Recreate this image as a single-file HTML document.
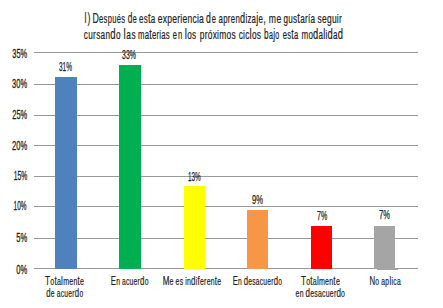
<!DOCTYPE html><html><head><meta charset="utf-8"><style>html,body{margin:0;padding:0;background:#fff;}svg{display:block;}text{font-family:"Liberation Sans",sans-serif;fill:#222222;stroke:#222222;stroke-width:0.20px;}text.n{stroke-width:0.30px;}text.d{stroke-width:0.25px;}</style></head><body>
<svg width="443" height="308" viewBox="0 0 443 308">
<rect x="0" y="0" width="443" height="308" fill="#fff"/>
<rect x="34" y="52" width="384" height="1" fill="#999999"/>
<rect x="34" y="84" width="384" height="1" fill="#999999"/>
<rect x="34" y="115" width="384" height="1" fill="#999999"/>
<rect x="34" y="145" width="384" height="1" fill="#999999"/>
<rect x="34" y="176" width="384" height="1" fill="#999999"/>
<rect x="34" y="206" width="384" height="1" fill="#999999"/>
<rect x="34" y="238" width="384" height="1" fill="#999999"/>
<rect x="34" y="268" width="384" height="1" fill="#999999"/>
<rect x="55" y="77" width="22" height="192" fill="#4f81bd"/>
<rect x="119" y="65" width="22" height="204" fill="#00b050"/>
<rect x="184" y="186" width="21" height="83" fill="#ffff00"/>
<rect x="247" y="210" width="21" height="59" fill="#f79646"/>
<rect x="311" y="226" width="21" height="43" fill="#ff0000"/>
<rect x="374" y="226" width="21" height="43" fill="#a5a5a5"/>
<rect x="377" y="269" width="21" height="1" fill="#a5a5a5"/>
<text class="n" x="12.30" y="57.90" font-size="12.8" textLength="14.90" lengthAdjust="spacingAndGlyphs">35%</text>
<text class="n" x="12.10" y="88.10" font-size="12.8" textLength="15.10" lengthAdjust="spacingAndGlyphs">30%</text>
<text class="n" x="12.30" y="119.00" font-size="12.8" textLength="14.90" lengthAdjust="spacingAndGlyphs">25%</text>
<text class="n" x="12.10" y="149.80" font-size="12.8" textLength="15.10" lengthAdjust="spacingAndGlyphs">20%</text>
<text class="n" x="13.70" y="179.80" font-size="12.8" textLength="13.50" lengthAdjust="spacingAndGlyphs">15%</text>
<text class="n" x="13.60" y="209.80" font-size="12.8" textLength="13.00" lengthAdjust="spacingAndGlyphs">10%</text>
<text class="n" x="16.20" y="242.40" font-size="12.8" textLength="11.00" lengthAdjust="spacingAndGlyphs">5%</text>
<text class="n" x="16.20" y="273.90" font-size="12.8" textLength="11.00" lengthAdjust="spacingAndGlyphs">0%</text>
<text class="d" x="59.00" y="70.80" font-size="12.8" textLength="13.00" lengthAdjust="spacingAndGlyphs">31%</text>
<text class="d" x="122.00" y="59.20" font-size="12.8" textLength="14.00" lengthAdjust="spacingAndGlyphs">33%</text>
<text class="d" x="188.00" y="180.80" font-size="12.8" textLength="12.80" lengthAdjust="spacingAndGlyphs">13%</text>
<text class="d" x="252.00" y="203.90" font-size="12.8" textLength="11.00" lengthAdjust="spacingAndGlyphs">9%</text>
<text class="d" x="317.00" y="219.70" font-size="12.8" textLength="10.20" lengthAdjust="spacingAndGlyphs">7%</text>
<text class="d" x="379.10" y="218.80" font-size="12.8" textLength="10.90" lengthAdjust="spacingAndGlyphs">7%</text>
<text transform="translate(84.60,22.80) scale(0.608,1)" font-size="14.2" textLength="9.53" lengthAdjust="spacing">l)</text>
<text transform="translate(92.40,22.80) scale(0.618,1)" font-size="14.2" textLength="52.90" lengthAdjust="spacing">D<tspan font-size="12.21">espués</tspan></text>
<text transform="translate(127.80,22.80) scale(0.585,1)" font-size="14.2" textLength="15.37" lengthAdjust="spacing">d<tspan font-size="12.21">e</tspan></text>
<text transform="translate(139.10,22.80) scale(0.647,1)" font-size="14.2" textLength="24.90" lengthAdjust="spacing"><tspan font-size="12.21">es</tspan>t<tspan font-size="12.21">a</tspan></text>
<text transform="translate(157.80,22.80) scale(0.702,1)" font-size="14.2" textLength="65.65" lengthAdjust="spacing"><tspan font-size="12.21">experiencia</tspan></text>
<text transform="translate(205.90,22.80) scale(0.613,1)" font-size="14.2" textLength="16.32" lengthAdjust="spacing">d<tspan font-size="12.21">e</tspan></text>
<text transform="translate(218.60,22.80) scale(0.642,1)" font-size="14.2" textLength="73.36" lengthAdjust="spacing"><tspan font-size="12.21">apren</tspan>d<tspan font-size="12.21">iza</tspan>j<tspan font-size="12.21">e</tspan>,</text>
<text transform="translate(268.80,22.80) scale(0.707,1)" font-size="14.2" textLength="17.54" lengthAdjust="spacing"><tspan font-size="12.21">me</tspan></text>
<text transform="translate(283.60,22.80) scale(0.664,1)" font-size="14.2" textLength="47.13" lengthAdjust="spacing"><tspan font-size="12.21">gus</tspan>t<tspan font-size="12.21">aría</tspan></text>
<text transform="translate(317.50,22.80) scale(0.694,1)" font-size="14.2" textLength="35.03" lengthAdjust="spacing"><tspan font-size="12.21">seguir</tspan></text>
<text transform="translate(83.80,38.50) scale(0.671,1)" font-size="14.2" textLength="54.66" lengthAdjust="spacing"><tspan font-size="12.21">cursan</tspan>d<tspan font-size="12.21">o</tspan></text>
<text transform="translate(123.50,38.50) scale(0.679,1)" font-size="14.2" textLength="17.83" lengthAdjust="spacing">l<tspan font-size="12.21">as</tspan></text>
<text transform="translate(138.10,38.50) scale(0.633,1)" font-size="14.2" textLength="49.95" lengthAdjust="spacing"><tspan font-size="12.21">ma</tspan>t<tspan font-size="12.21">erias</tspan></text>
<text transform="translate(172.80,38.50) scale(0.618,1)" font-size="14.2" textLength="15.21" lengthAdjust="spacing"><tspan font-size="12.21">en</tspan></text>
<text transform="translate(184.80,38.50) scale(0.672,1)" font-size="14.2" textLength="16.95" lengthAdjust="spacing">l<tspan font-size="12.21">os</tspan></text>
<text transform="translate(199.80,38.50) scale(0.690,1)" font-size="14.2" textLength="51.90" lengthAdjust="spacing"><tspan font-size="12.21">próximos</tspan></text>
<text transform="translate(238.70,38.50) scale(0.681,1)" font-size="14.2" textLength="32.76" lengthAdjust="spacing"><tspan font-size="12.21">cic</tspan>l<tspan font-size="12.21">os</tspan></text>
<text transform="translate(264.10,38.50) scale(0.580,1)" font-size="14.2" textLength="26.02" lengthAdjust="spacing">b<tspan font-size="12.21">a</tspan>j<tspan font-size="12.21">o</tspan></text>
<text transform="translate(282.80,38.50) scale(0.621,1)" font-size="14.2" textLength="24.95" lengthAdjust="spacing"><tspan font-size="12.21">es</tspan>t<tspan font-size="12.21">a</tspan></text>
<text transform="translate(301.50,38.50) scale(0.659,1)" font-size="14.2" textLength="62.84" lengthAdjust="spacing"><tspan font-size="12.21">mo</tspan>d<tspan font-size="12.21">a</tspan>l<tspan font-size="12.21">i</tspan>d<tspan font-size="12.21">a</tspan>d</text>
<text transform="translate(45.10,285.00) scale(0.672,1)" font-size="12.2" textLength="57.89" lengthAdjust="spacing" word-spacing="-1.0">T<tspan font-size="10.49">o</tspan>t<tspan font-size="10.49">a</tspan>l<tspan font-size="10.49">men</tspan>t<tspan font-size="10.49">e</tspan></text>
<text transform="translate(46.20,297.00) scale(0.638,1)" font-size="12.2" textLength="58.00" lengthAdjust="spacing" word-spacing="-1.0">d<tspan font-size="10.49">e</tspan> <tspan font-size="10.49">acuer</tspan>d<tspan font-size="10.49">o</tspan></text>
<text transform="translate(110.70,285.00) scale(0.646,1)" font-size="12.2" textLength="58.38" lengthAdjust="spacing" word-spacing="-1.0">E<tspan font-size="10.49">n</tspan> <tspan font-size="10.49">acuer</tspan>d<tspan font-size="10.49">o</tspan></text>
<text transform="translate(162.70,285.00) scale(0.657,1)" font-size="12.2" textLength="88.93" lengthAdjust="spacing" word-spacing="-1.0">M<tspan font-size="10.49">e</tspan> <tspan font-size="10.49">es</tspan> <tspan font-size="10.49">in</tspan>d<tspan font-size="10.49">i</tspan>f<tspan font-size="10.49">eren</tspan>t<tspan font-size="10.49">e</tspan></text>
<text transform="translate(232.70,285.00) scale(0.637,1)" font-size="12.2" textLength="77.24" lengthAdjust="spacing" word-spacing="-1.0">E<tspan font-size="10.49">n</tspan> d<tspan font-size="10.49">esacuer</tspan>d<tspan font-size="10.49">o</tspan></text>
<text transform="translate(300.90,285.00) scale(0.672,1)" font-size="12.2" textLength="57.89" lengthAdjust="spacing" word-spacing="-1.0">T<tspan font-size="10.49">o</tspan>t<tspan font-size="10.49">a</tspan>l<tspan font-size="10.49">men</tspan>t<tspan font-size="10.49">e</tspan></text>
<text transform="translate(295.60,297.00) scale(0.660,1)" font-size="12.2" textLength="74.80" lengthAdjust="spacing" word-spacing="-1.0"><tspan font-size="10.49">en</tspan> d<tspan font-size="10.49">esacuer</tspan>d<tspan font-size="10.49">o</tspan></text>
<text transform="translate(369.40,284.80) scale(0.644,1)" font-size="12.2" textLength="48.62" lengthAdjust="spacing" word-spacing="-1.0">N<tspan font-size="10.49">o</tspan> <tspan font-size="10.49">ap</tspan>l<tspan font-size="10.49">ica</tspan></text>
</svg></body></html>
